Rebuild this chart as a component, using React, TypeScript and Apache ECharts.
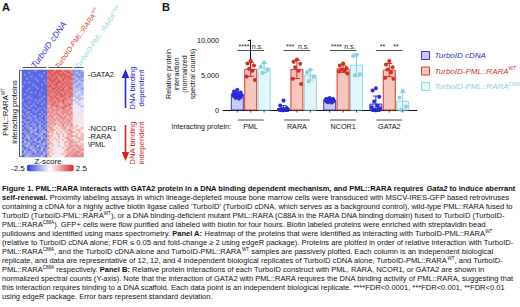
import React, { useEffect, useRef } from 'react';
import * as echarts from 'echarts';

const FONT = '"Liberation Sans", Arial, Helvetica, sans-serif';

// ---------- Panel B data (normalized spectral counts) ----------
const proteins = ['PML', 'RARA', 'NCOR1', 'GATA2'];
const constructNames = ['TurboID cDNA', 'TurboID-PML::RARA WT', 'TurboID-PML::RARA C88A'];
const constructLabels = ['{n|TurboID cDNA}', '{n|TurboID-PML::RARA}{s|WT}', '{n|TurboID-PML::RARA}{s|C88A}'];
const cdnaCounts = [
  [2900, 2650, 2500, 2420, 2300, 2210, 2150, 2080, 1980, 1870, 1760, 1650],
  [1350, 650, 300, 150, 100, 50, 0, 0, 0, 0, 0, 0],
  [1720, 1580, 1560, 1490, 1430, 1420, 1330, 1310, 1240, 1200, 1120, 1060],
  [3100, 2800, 1900, 1200, 600, 400, 200, 0, 0, 0, 0, 0],
];
const wtCounts = [
  [7050, 6650, 6350, 5900, 5600, 4800, 4300],
  [7200, 6900, 6600, 6100, 5600, 4450, 3700],
  [6650, 6350, 6000, 5800, 5650, 5500, 5200],
  [7000, 6500, 6100, 5800, 5400, 4600, 4450],
];
const c88aCounts = [
  [6800, 6200, 5700, 5300],
  [5750, 5400, 4750, 4100],
  [7850, 7700, 5100, 4950],
  [2750, 1800, 500, 0],
];
const sigCdnaVsWt = ['****', '***', '****', '**'];
const sigWtVsC88a = ['n.s.', 'n.s.', 'n.s.', '**'];
const yMax = 10000;
const yInterval = 5000;
const sigLevel = 8500;

// ---------- Panel A data (z-score levels 0..9 mapped to -2.5..2.5) ----------
// each row: 12 TurboID cDNA | 12 TurboID-PML::RARA WT | 4 TurboID-PML::RARA C88A
const heatmapRows = [
  '111111211111 888788878877 2223',
  '111211111121 887888787887 2322',
  '121111112111 788878888778 2232',
  '111121111211 878787878887 3222',
  '112111211111 887887788788 2323',
  '111111121121 788878787877 3232',
  '121211111112 878788878787 2333',
  '111112111211 787887787878 3323',
  '211111211111 887787878787 3233',
  '111211121111 778878787788 3332',
  '112111111211 878787887877 3333',
  '111121211111 787878778787 3343',
  '121111112111 877787878778 3433',
  '111211111121 787877887787 3334',
  '112121111211 778787778777 4333',
  '211111212111 787778787777 3434',
  '111211121121 777877787767 4344',
  '121112111211 778777677787 4434',
  '112121211111 677787778776 4443',
  '211211112121 777677787677 4444',
  '121112121112 767777677776 4454',
  '112211211211 777676777767 4544',
  '212121112121 676777676777 5444',
  '121212211212 777667767676 4545',
  '112221212112 767676777667 5454',
  '221121221212 676767676776 4555',
  '122212122121 767666767676 5545',
  '212122212212 676766676767 5554',
  '122212213122 766656676667 5655',
  '212231222212 676565667566 6556',
  '121222312221 667656566676 5665',
  '222132212232 766565656667 6565',
  '122221322312 656566565676 5656',
  '213222123221 766556565667 6656',
  '122312221322 665656556766 5666',
  '221222312212 756565465676 6566',
  '132221223122 665556456667 6665',
  '222312212232 766545556576 6656',
  '123222132221 656546456667 6766',
  '212232221322 765455465676 6676',
  '222123222312 656545456766 7667',
  '132222312222 665454556667 6776',
  '222321222132 756545465676 7767',
  '123222222321 665455456767 7777',
];
const geneLabels: Record<number, string> = { 2: '-GATA2', 29: '-NCOR1', 33: '-RARA', 37: '\\PML' };
const zMin = -2.5;
const zMax = 2.5;

// ---------- caption ----------
const captionLines = [
  '{b|Figure 1. PML::RARA interacts with GATA2 protein in a DNA binding dependent mechanism, and PML::RARA requires }{bi|Gata2}{b| to induce aberrant}',
  '{b|self-renewal.} Proximity labeling assays in which lineage-depleted mouse bone marrow cells were transduced with MSCV-IRES-GFP based retroviruses',
  'containing a cDNA for a highly active biotin ligase called \u2018TurboID\u2019 (TurboID cDNA, which serves as a background control), wild-type PML::RARA fused to',
  'TurboID (TurboID-PML::RARA{s|WT}), or a DNA binding-deficient mutant PML::RARA (C88A in the RARA DNA binding domain) fused to TurboID (TurboID-',
  'PML::RARA{s|C88A}). GFP+ cells were flow purified and labeled with biotin for four hours. Biotin labeled proteins were enriched with streptavidin bead',
  'pulldowns and identified using mass spectrometry. {b|Panel A:} Heatmap of the proteins that were identified as interacting with TurboID-PML::RARA{s|WT}',
  '(relative to TurboID cDNA alone; FDR \u2264 0.05 and fold-change \u2265 2 using edgeR package). Proteins are plotted in order of relative interaction with TurboID-',
  'PML::RARA{s|C88A}, and the TurboID cDNA alone and TurboID-PML::RARA{s|WT} samples are passively plotted. Each column is an independent biological',
  'replicate, and data are representative of 12, 12, and 4 independent biological replicates of TurboID cDNA alone, TurboID-PML::RARA{s|WT}, and TurboID-',
  'PML::RARA{s|C88A} respectively. {b|Panel B:} Relative protein interactions of each TurboID construct with PML, RARA, NCOR1, or GATA2 are shown in',
  'normalized spectral counts (Y-axis). Note that the interaction of GATA2 with PML::RARA requires the DNA binding activity of PML::RARA, suggesting that',
  'this interaction requires binding to a DNA scaffold. Each data point is an independent biological replicate. ****FDR<0.0001, ***FDR<0.001, **FDR<0.01',
  'using edgeR package. Error bars represent standard deviation.',
];

const BLUE = '#2b2bd6';
const RED = '#d42d22';
const CYAN = '#84d2de';
const CAP = 7.55;

const groups = [
  { counts: cdnaCounts, fill: '#c9cbf4', stroke: '#3838cf', dot: BLUE, text: '#3030c8' },
  { counts: wtCounts, fill: '#f6c6bd', stroke: '#d63a2c', dot: RED, text: '#d03025' },
  { counts: c88aCounts, fill: '#e3f6f9', stroke: '#95d8e2', dot: CYAN, text: '#8ccfdb' },
];

const mean = (a: number[]) => a.reduce((s, v) => s + v, 0) / a.length;
const sd = (a: number[]) => {
  const m = mean(a);
  return Math.sqrt(a.reduce((s, v) => s + (v - m) * (v - m), 0) / (a.length - 1));
};

const STEP = 13.4;
const BAR_W = 12;
const JIT = [0, -3.3, 3.3, -1.7, 1.7, -4.2, 4.2];

function makeRender(k: number) {
  return (params: any, api: any) => {
    const i = params.dataIndex;
    const g = groups[k];
    const pts = g.counts[i];
    const m = mean(pts);
    const s = sd(pts);
    const base = api.coord([i, 0]);
    const xc = base[0] + (k - 1) * STEP;
    const y0 = base[1];
    const yM = api.coord([i, m])[1];
    const yHi = api.coord([i, m + s])[1];
    const yLo = api.coord([i, Math.max(0, m - s)])[1];
    const children: any[] = [];
    children.push({ type: 'rect', shape: { x: xc - BAR_W / 2, y: yM, width: BAR_W, height: y0 - yM }, style: { fill: g.fill, stroke: g.stroke, lineWidth: 1 } });
    pts.forEach((v: number, j: number) => {
      children.push({ type: 'circle', shape: { cx: xc + JIT[j % JIT.length], cy: api.coord([i, v])[1], r: 2 }, style: { fill: g.dot } });
    });
    children.push({ type: 'line', shape: { x1: xc, y1: yHi, x2: xc, y2: yLo }, style: { stroke: g.dot, lineWidth: 1 } });
    children.push({ type: 'line', shape: { x1: xc - 3, y1: yHi, x2: xc + 3, y2: yHi }, style: { stroke: g.dot, lineWidth: 1 } });
    children.push({ type: 'line', shape: { x1: xc - 3, y1: yLo, x2: xc + 3, y2: yLo }, style: { stroke: g.dot, lineWidth: 1 } });
    children.push({ type: 'line', shape: { x1: xc, y1: y0, x2: xc, y2: y0 + 2.5 }, style: { stroke: '#222', lineWidth: 0.8 } });
    const ySig = api.coord([i, sigLevel])[1];
    if (k === 0) {
      children.push({ type: 'line', shape: { x1: xc, y1: ySig, x2: xc + STEP, y2: ySig }, style: { stroke: '#222', lineWidth: 0.8 } });
      children.push({ type: 'text', x: xc + STEP / 2, y: ySig - 0.3, style: { text: sigCdnaVsWt[i], align: 'center', verticalAlign: 'bottom', fontSize: 7, fontFamily: FONT, fill: '#222' } });
      children.push({ type: 'line', shape: { x1: base[0] - 13, y1: y0 + 10, x2: base[0] + 13, y2: y0 + 10 }, style: { stroke: '#222', lineWidth: 0.8 } });
      children.push({ type: 'text', x: base[0], y: y0 + 16, style: { text: proteins[i], align: 'center', verticalAlign: 'middle', fontSize: 7.2, fontFamily: FONT, fill: '#111' } });
    }
    if (k === 2) {
      children.push({ type: 'line', shape: { x1: xc - STEP, y1: ySig, x2: xc, y2: ySig }, style: { stroke: '#222', lineWidth: 0.8 } });
      children.push({ type: 'text', x: xc - STEP / 2, y: ySig - 0.3, style: { text: sigWtVsC88a[i], align: 'center', verticalAlign: 'bottom', fontSize: 7, fontFamily: FONT, fill: '#222' } });
    }
    return { type: 'group', children };
  };
}

function buildOption() {
  const rowIds = heatmapRows.map((_, r) => 'r' + r);
  const blocks = [0, 1, 2].map((b) => heatmapRows.map((row) => row.split(' ')[b]));
  const heatGrids = [
    { left: 22, top: 70, width: 25.5, height: 87 },
    { left: 47.5, top: 70, width: 25.5, height: 87 },
    { left: 73, top: 70, width: 10.5, height: 87 },
  ];
  const decode = (d: string) => zMin + (Number(d) * (zMax - zMin)) / 9;

  const grids: any[] = [{ left: 223, top: 40, width: 194, height: 70 }, ...heatGrids];
  const xAxes: any[] = [
    { type: 'value', gridIndex: 0, min: -0.6, max: 3.6, axisLine: { show: true, onZero: false, lineStyle: { color: '#111', width: 1 } }, axisTick: { show: false }, axisLabel: { show: false }, splitLine: { show: false } },
  ];
  const yAxes: any[] = [
    {
      type: 'value', gridIndex: 0, min: 0, max: yMax, interval: yInterval,
      axisLine: { show: true, lineStyle: { color: '#111', width: 1 } },
      axisTick: { show: true, length: 3, lineStyle: { color: '#111' } },
      axisLabel: { fontSize: 7.2, margin: 4, color: '#111', fontFamily: FONT, formatter: (v: number) => v.toLocaleString('en-US') },
      splitLine: { show: false },
    },
  ];
  const series: any[] = [];
  blocks.forEach((blk, b) => {
    const ncol = blk[0].length;
    xAxes.push({ type: 'category', gridIndex: b + 1, data: Array.from({ length: ncol }, (_, c) => 'c' + c), show: false });
    yAxes.push({
      type: 'category', gridIndex: b + 1, data: rowIds, inverse: true, show: b === 2, position: 'right',
      axisLine: { show: false }, axisTick: { show: false },
      axisLabel: { show: b === 2, interval: 0, margin: 4.5, fontSize: 7.5, color: '#111', fontFamily: FONT, formatter: (_v: string, idx: number) => geneLabels[idx] || '' },
    });
    const data: any[] = [];
    blk.forEach((row, r) => {
      for (let c = 0; c < row.length; c++) data.push([c, r, decode(row[c])]);
    });
    series.push({ type: 'heatmap', xAxisIndex: b + 1, yAxisIndex: b + 1, data, itemStyle: { borderWidth: 0 }, emphasis: { disabled: true } });
  });

  groups.forEach((g, k) => {
    series.push({
      type: 'custom', name: constructNames[k], xAxisIndex: 0, yAxisIndex: 0, clip: false,
      itemStyle: { color: g.fill, borderColor: g.stroke },
      data: proteins.map((_, i) => [i, mean(g.counts[i])]),
      renderItem: makeRender(k),
    });
  });

  const T = (x: number, y: number, text: string, extra: any = {}, rot = 0) => ({
    type: 'text', x, y, rotation: rot, silent: true,
    style: { text, fontFamily: FONT, fontSize: 7.5, fill: '#111', align: 'left', verticalAlign: 'middle', ...extra },
  });
  const supRich = (size: number, color: string, italic = false) => ({
    h: { fontSize: size, fontFamily: FONT, fontStyle: italic ? 'italic' : 'normal', fill: color, lineHeight: size + 1.5 },
    s: { fontSize: size * 0.6, fontFamily: FONT, fontStyle: italic ? 'italic' : 'normal', fill: color, verticalAlign: 'top', lineHeight: size * 0.6 },
  });
  const ANG = (55 * Math.PI) / 180;

  const graphic: any[] = [
    T(2, 7, 'A', { fontSize: 11, fontWeight: 'bold' }),
    T(162, 7, 'B', { fontSize: 11, fontWeight: 'bold' }),
    // heatmap column headers
    T(37, 70, '{h|TurboID cDNA}', { verticalAlign: 'bottom', rich: supRich(8.5, '#3434cf', true) }, ANG),
    T(60, 70, '{h|TurboID-PML::RARA}{s|WT}', { verticalAlign: 'bottom', rich: supRich(7, '#d33a2e', true) }, ANG),
    T(80, 70, '{h|TurboID-PML::RARA}{s|C88A}', { verticalAlign: 'bottom', rich: supRich(7, '#8fd4de', true) }, ANG),
    { type: 'line', shape: { x1: 22.5, y1: 67.5, x2: 46.5, y2: 67.5 }, style: { stroke: '#555', lineWidth: 1 } },
    { type: 'line', shape: { x1: 48.5, y1: 67.5, x2: 72.5, y2: 67.5 }, style: { stroke: '#555', lineWidth: 1 } },
    { type: 'line', shape: { x1: 74, y1: 67.5, x2: 83.5, y2: 67.5 }, style: { stroke: '#555', lineWidth: 1 } },
    // left bracket + title
    { type: 'polyline', shape: { points: [[21.5, 70.5], [19.5, 70.5], [19.5, 156.5], [21.5, 156.5]] }, style: { stroke: '#555', fill: null, lineWidth: 1 } },
    T(10, 112, '{h|PML::RARA}{s|WT}\n{h|interacting proteins}', { align: 'center', rich: supRich(7.5, '#111') }, Math.PI / 2),
    // arrows
    { type: 'line', shape: { x1: 125.5, y1: 108, x2: 125.5, y2: 76 }, style: { stroke: '#2323d8', lineWidth: 1.6 } },
    { type: 'polygon', shape: { points: [[125.5, 69], [121.8, 78], [129.2, 78]] }, style: { fill: '#2323d8' } },
    { type: 'line', shape: { x1: 125.5, y1: 125, x2: 125.5, y2: 152 }, style: { stroke: '#d82020', lineWidth: 1.6 } },
    { type: 'polygon', shape: { points: [[125.5, 161], [121.8, 152], [129.2, 152]] }, style: { fill: '#d82020' } },
    T(137, 88, 'DNA binding\ndependent', { align: 'center', fill: '#2323d8', fontSize: 7.8, lineHeight: 8.5 }, Math.PI / 2),
    T(137, 143, 'DNA binding\nindependent', { align: 'center', fill: '#d82020', fontSize: 7.8, lineHeight: 8.5 }, Math.PI / 2),
    T(48, 161.5, 'Z-score', { align: 'center', fontSize: 8 }),
    // panel B texts
    T(180, 74, 'Relative protein\ninteraction\n(normalized\nspectral counts)', { align: 'center', fontSize: 7.2, lineHeight: 8 }, Math.PI / 2),
    T(231, 126, 'Interacting protein:', { align: 'right', fontSize: 7.2 }),
    // caption
    {
      type: 'text', x: 2, y: 184.5, silent: true,
      style: {
        text: captionLines.join('\n'), fontFamily: FONT, fontSize: CAP, lineHeight: 8.95, fill: '#111', align: 'left', verticalAlign: 'top',
        rich: {
          b: { fontFamily: FONT, fontSize: CAP, fontWeight: 'bold', fill: '#111', lineHeight: 8.95 },
          bi: { fontFamily: FONT, fontSize: CAP, fontWeight: 'bold', fontStyle: 'italic', fill: '#111', lineHeight: 8.95 },
          s: { fontFamily: FONT, fontSize: 4.6, fill: '#111', verticalAlign: 'top', lineHeight: 5 },
        },
      },
    },
  ];

  return {
    animation: false,
    backgroundColor: '#fff',
    textStyle: { fontFamily: FONT },
    grid: grids,
    xAxis: xAxes,
    yAxis: yAxes,
    visualMap: {
      type: 'continuous', min: zMin, max: zMax, seriesIndex: [0, 1, 2], orient: 'horizontal',
      left: 11, top: 164, itemWidth: 7, itemHeight: 47, padding: 0, textGap: 2, calculable: false,
      text: [String(zMax), String(zMin)], textStyle: { fontSize: 8, color: '#111', fontFamily: FONT },
      inRange: { color: ['#2b3bd8', '#ffffff', '#d62828'] },
    },
    legend: {
      orient: 'vertical', left: 421, top: 51, itemWidth: 8, itemHeight: 8, itemGap: 6, padding: 0, icon: 'rect', selectedMode: false,
      data: groups.map((g, k) => ({ name: constructNames[k], itemStyle: { color: g.fill, borderColor: g.stroke, borderWidth: 1 }, textStyle: { color: g.text } })),
      formatter: (name: string) => constructLabels[constructNames.indexOf(name)],
      textStyle: {
        fontSize: 8, fontStyle: 'italic', fontFamily: FONT,
        rich: {
          n: { fontSize: 8, fontStyle: 'italic', fontFamily: FONT, lineHeight: 10 },
          s: { fontSize: 4.8, fontStyle: 'italic', fontFamily: FONT, verticalAlign: 'top', lineHeight: 6 },
        },
      },
    },
    graphic,
    series,
  };
}

export default function App() {
  const ref = useRef<HTMLDivElement>(null);
  useEffect(() => {
    const chart = echarts.init(ref.current!, null, { renderer: 'svg' });
    chart.setOption(buildOption() as any);
    return () => chart.dispose();
  }, []);
  return <div ref={ref} style={{ position: 'fixed', left: 0, top: 0, width: 520, height: 307, background: '#fff' }} />;
}
